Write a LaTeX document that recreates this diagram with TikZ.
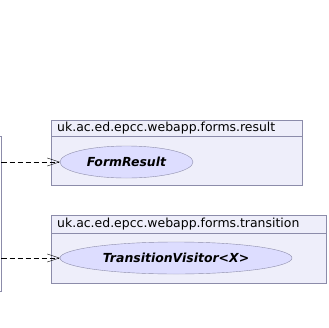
\documentclass[tikz,border=0pt]{standalone}
\usepackage{fontspec}
\setmainfont{DejaVu Sans}
\usetikzlibrary{positioning, shapes, arrows.meta}
\definecolor{PkgFill}{RGB}{238, 238, 250}
\definecolor{ClassFill}{RGB}{221, 221, 255}
\definecolor{EdgeGray}{RGB}{140, 140, 170}

\begin{document}
\begin{tikzpicture}[x=1bp, y=-1bp,
      pkg/.style={rectangle, draw=EdgeGray, fill=PkgFill, anchor=north west, inner sep=0pt},
      pkglabel/.style={anchor=west, inner sep=0pt, font=\fontsize{12.5}{14}\selectfont},
      cls/.style={ellipse, draw=EdgeGray, fill=ClassFill, inner sep=0pt, minimum height=32bp,
      font=\fontsize{12.5}{14}\selectfont\bfseries\itshape},
      dep/.style={draw=black, dash pattern=on 5bp off 3bp, -{Straight Barb[length=12bp, width=8bp]}}
    ]
      \clip (0,0) rectangle (329,328);
      \fill[white] (0,0) rectangle (329,328);

      % class on the left, mostly cut off
      \node[draw=EdgeGray, fill=white, anchor=north east, minimum width=80bp, minimum height=155bp] (src) at (1.5,136) {};

      % package result
      \node[pkg, minimum width=251bp, minimum height=65bp] (result) at (51,120) {};
      \draw[EdgeGray] ([yshift=-16bp]result.north west) -- ([yshift=-16bp]result.north east);
      \node[pkglabel] (resultname) at ([xshift=6bp, yshift=-8bp]result.north west) {uk.ac.ed.epcc.webapp.forms.result};
      \node[cls, minimum width=133bp] (formresult) at (126.5,162) {FormResult};

      % package transition
      \node[pkg, minimum width=275bp, minimum height=68bp] (transition) at (51,215) {};
      \draw[EdgeGray] ([yshift=-18bp]transition.north west) -- ([yshift=-18bp]transition.north east);
      \node[pkglabel] (transitionname) at ([xshift=6bp, yshift=-9bp]transition.north west) {uk.ac.ed.epcc.webapp.forms.transition};
      \node[cls, minimum width=232bp] (visitor) at (176,258) {TransitionVisitor<X>};

      \draw[dep] (src.east |- formresult) -- (formresult);
      \draw[dep] (src.east |- visitor) -- (visitor);
    \end{tikzpicture}
\end{document}
